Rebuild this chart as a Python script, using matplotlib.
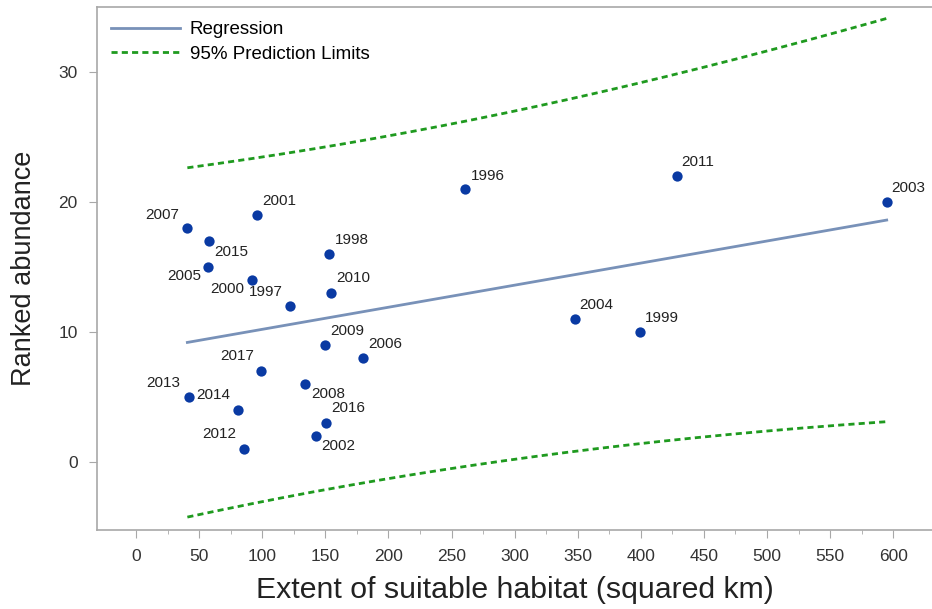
import numpy as np
import matplotlib
matplotlib.use("Agg")
from matplotlib import pyplot as plt

plt.rcParams['font.family'] = ['Liberation Sans', 'DejaVu Sans']

# habitat extent (km2), ranked abundance, year
years = [2007, 2015, 2005, 2001, 2000, 1997, 1998, 2010, 1996, 2011, 2003,
         2004, 1999, 2009, 2006, 2017, 2008, 2013, 2014, 2016, 2002, 2012]
habitat = [40.7, 57.7, 57.1, 96.2, 92.0, 122.4, 152.9, 154.7, 261.0, 428.4, 594.8,
           347.5, 399.0, 149.9, 180.1, 99.2, 134.3, 42.0, 80.9, 150.5, 142.8, 85.9]
rang = [18, 17, 15, 19, 14, 12, 16, 13, 21, 22, 20,
        11, 10, 9, 8, 7, 6, 5, 4, 3, 2, 1]

# label placement (pixels from the point, alignment)
decal = {
    2007: (-8, 13, 'right'), 2015: (5, -11, 'left'), 2005: (-7, -9, 'right'),
    2001: (5, 14, 'left'), 2000: (-8, -9, 'right'), 1997: (-8, 14, 'right'),
    1998: (6, 14, 'left'), 2010: (5, 15, 'left'), 1996: (5, 13, 'left'),
    2011: (5, 14, 'left'), 2003: (5, 14, 'left'), 2004: (5, 14, 'left'),
    1999: (5, 14, 'left'), 2009: (5, 14, 'left'), 2006: (5, 14, 'left'),
    2017: (-7, 15, 'right'), 2008: (6, -10, 'left'), 2013: (-9, 14, 'right'),
    2014: (-8, 15, 'right'), 2016: (5, 15, 'left'), 2002: (5, -10, 'left'),
    2012: (-8, 15, 'right'),
}

x = np.array(habitat)
y = np.array(rang, dtype=float)
n = len(x)

# moindres carres + limites de prediction a 95 %
pente, ordo = np.polyfit(x, y, 1)
residus = y - (pente * x + ordo)
s = np.sqrt(np.sum(residus ** 2) / (n - 2))
t975 = 2.086  # t(0.975, 20 ddl)
xx = np.linspace(x.min(), x.max(), 200)
yy = pente * xx + ordo
marge = t975 * s * np.sqrt(1 + 1 / n + (xx - x.mean()) ** 2 / np.sum((x - x.mean()) ** 2))

fig = plt.figure(figsize=(9.32, 6.09), dpi=100)
ax = fig.add_axes([97 / 932, 79 / 609, 835 / 932, 523 / 609])

tirets = (0, (2.2, 1.5))
ax.plot(xx, yy, color='#7891b8', lw=2, label='Regression')
ax.plot(xx, yy + marge, color='#1f9a1f', lw=2, ls=tirets, label='95% Prediction Limits')
ax.plot(xx, yy - marge, color='#1f9a1f', lw=2, ls=tirets)
ax.scatter(x, y, s=55, color='#0a3aa3', zorder=3, linewidths=0)

for an, xi, yi in zip(years, habitat, rang):
    dx, dy, ha = decal[an]
    ax.annotate(str(an), (xi, yi), xytext=(dx, dy), textcoords='offset pixels',
                ha=ha, va='center', fontsize=11, color='#222222')

ax.set_xlim(-30.9, 630.7)
ax.set_ylim(-5.2, 34.97)
ax.set_xticks(np.arange(0, 601, 50))
ax.set_xticks(np.arange(25, 600, 50), minor=True)
ax.set_yticks([0, 10, 20, 30])

for cote in ['left', 'bottom', 'top']:
    ax.spines[cote].set_color('#a8a8a8')
    ax.spines[cote].set_linewidth(1.2)
ax.spines['right'].set_visible(False)
ax.tick_params(axis='both', which='major', length=6, color='#a8a8a8', labelsize=12.5,
               labelcolor='#333333', pad=8)
ax.tick_params(axis='x', which='minor', length=3, color='#a8a8a8')

ax.set_xlabel('Extent of suitable habitat (squared km)', fontsize=21.8, color='#222222', labelpad=8)
ax.set_ylabel('Ranked abundance', fontsize=19.5, color='#222222', labelpad=15)

ax.legend(loc='upper left', frameon=False, fontsize=13.5, handlelength=3.7,
          borderaxespad=0.35, labelspacing=0.4, handletextpad=0.5)

fig.savefig('out.png', dpi=100)
